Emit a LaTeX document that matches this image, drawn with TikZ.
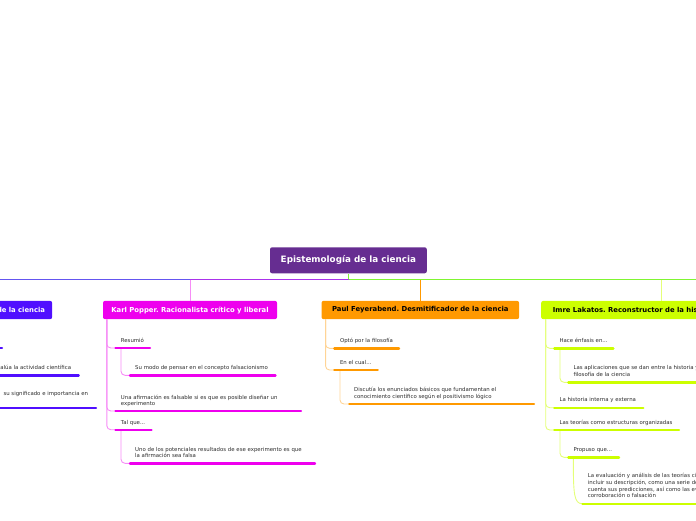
\documentclass[tikz,border=0pt]{standalone}
\usepackage{fontspec}
\setmainfont{DejaVu Sans}
\frenchspacing
\definecolor{rootc}{RGB}{102,45,145}
\definecolor{bluec}{RGB}{80,15,255}
\definecolor{magc}{RGB}{238,0,238}
\definecolor{magl}{RGB}{246,140,246}
\definecolor{orc}{RGB}{255,153,0}
\definecolor{orl}{RGB}{255,212,150}
\definecolor{grc}{RGB}{204,255,0}
\definecolor{grl}{RGB}{228,255,120}
\definecolor{linel}{RGB}{100,85,240}
\definecolor{linep}{RGB}{170,50,235}
\definecolor{lineg}{RGB}{128,245,50}
\definecolor{textc}{RGB}{45,45,45}
\tikzset{
  mainbox/.style={rounded corners=2pt, minimum height=18.3pt, inner ysep=0pt, font=\fontsize{6.85}{8}\selectfont\bfseries},
  bar/.style={line width=2.4pt, line cap=round},
  conn/.style={line width=0.9pt, rounded corners=4pt},
  txt/.style={anchor=base west, inner sep=0pt, font=\fontsize{5.4}{6.6}\selectfont, text=textc, align=left},
  txte/.style={txt, anchor=base east},
  mainline/.style={line width=1.3pt}
}
\begin{document}
\begin{tikzpicture}[x=1pt,y=-1pt]
\useasboundingbox (0,0) rectangle (696,520);
\clip (0,0) rectangle (696,520);
% root
\node[fill=rootc, rounded corners=2pt, minimum width=156.7pt, minimum height=26pt, inner sep=0pt, text=white, font=\fontsize{8.8}{10}\selectfont\bfseries] (root) at (348.4,260.3) {Epistemología de la ciencia};
\coordinate (hub) at (348.6,279.6);
\coordinate (leftend) at (-5,279.6);
\coordinate (rightend) at (701,279.6);
% main boxes
\node[mainbox, fill=bluec, text=white, anchor=east, text width=90pt, align=right, inner xsep=7pt] (kuhn) at (52.3,310) {de la ciencia};
\node[mainbox, fill=magc, text=white, minimum width=174pt, inner xsep=0pt] (popper) at (190,310) {Karl Popper. Racionalista crítico y liberal};
\node[mainbox, fill=orc, text=black, minimum width=197.5pt, inner xsep=0pt] (fey) at (420.3,310) {Paul Feyerabend. Desmitificador de la ciencia};
\node[mainbox, fill=grc, text=black, anchor=west, inner xsep=11.7pt] (lak) at (541,310) {Imre Lakatos. Reconstructor de la historia de la ciencia};
% main lines
\draw[mainline, lineg] (hub) -- (rightend);
\draw[mainline, lineg, line width=1pt] (root.south -| hub) -- (hub);
\draw[mainline, linep] (hub) -- (popper.north |- hub);
\draw[mainline, linel] (popper.north |- hub) -- (leftend);
\draw[line width=1pt, magl] (popper.north |- hub) -- (popper.north);
\draw[line width=1pt, orc] (fey.north |- hub) -- (fey.north);
\draw[line width=1pt, grl] (lak.north -| 661.5,0) -- (661.5,280.3);
% ---------- Kuhn (left, cut) ----------
\coordinate (k1s) at (-20,347.7); \coordinate (k1e) at (2,347.7);
\coordinate (k2s) at (-20,375.3); \coordinate (k2e) at (78.7,375.3);
\coordinate (k3s) at (-20,407.7); \coordinate (k3e) at (96,407.7);
\draw[bar, bluec] (k1s) -- (k1e);
\draw[bar, bluec] (k2s) -- (k2e);
\draw[bar, bluec] (k3s) -- (k3e);
\node[txte] (kt2) at (71.3,369.4) {alúa la actividad científica};
\node[txte] (kt3) at (88.3,395.7) {su significado e importancia en};
% ---------- Popper ----------
\coordinate (p1s) at (115.5,348); \coordinate (p1e) at (150,348);
\coordinate (p1as) at (130,375.3); \coordinate (p1ae) at (275.5,375.3);
\coordinate (p2s) at (115.5,411); \coordinate (p2e) at (301,411);
\coordinate (p3s) at (115.5,429.7); \coordinate (p3e) at (151.5,429.7);
\coordinate (p3as) at (130,463.3); \coordinate (p3ae) at (315,463.3);
\draw[conn, magl] ([xshift=4pt]popper.south west) |- (p1s);
\draw[conn, magl] ([xshift=4pt]popper.south west) |- (p2s);
\draw[conn, magl] ([xshift=4pt]popper.south west) |- (p3s);
\draw[conn, magl] ([xshift=5.5pt]p1s) |- (p1as);
\draw[conn, magl] ([xshift=5.5pt]p3s) |- (p3as);
\draw[bar, magc] (p1s) -- (p1e);
\draw[bar, magc] (p1as) -- (p1ae);
\draw[bar, magc] (p2s) -- (p2e);
\draw[bar, magc] (p3s) -- (p3e);
\draw[bar, magc] (p3as) -- (p3ae);
\node[txt] (pt1) at (120.7,342.6) {Resumió};
\node[txt] (pt1a) at (135,369.8) {Su modo de pensar en el concepto falsacionismo};
\node[txt] (pt2) at (120.7,405.6) {Una afirmación es falsable si es que es posible diseñar un\\experimento};
\node[txt] (pt3) at (120.7,424.4) {Tal que...};
\node[txt] (pt3a) at (135,457.6) {Uno de los potenciales resultados de ese experimento es que\\la afirmación sea falsa};
% ---------- Feyerabend ----------
\coordinate (f1s) at (334.3,348.3); \coordinate (f1e) at (399,348.3);
\coordinate (f2s) at (334.3,370); \coordinate (f2e) at (377.7,370);
\coordinate (f2as) at (349.3,404); \coordinate (f2ae) at (534,404);
\draw[conn, orl] ([xshift=4.2pt]fey.south west) |- (f1s);
\draw[conn, orl] ([xshift=4.2pt]fey.south west) |- (f2s);
\draw[conn, orl] ([xshift=5.7pt]f2s) |- (f2as);
\draw[bar, orc] (f1s) -- (f1e);
\draw[bar, orc] (f2s) -- (f2e);
\draw[bar, orc] (f2as) -- (f2ae);
\node[txt] (ft1) at (339.8,342.7) {Optó por la filosofía};
\node[txt] (ft2) at (339.8,364.3) {En el cual...};
\node[txt] (ft2a) at (354,398.2) {Discutía los enunciados básicos que fundamentan el\\conocimiento científico según el positivismo lógico};
% ---------- Lakatos ----------
\coordinate (l1s) at (554.3,348.3); \coordinate (l1e) at (613.3,348.3);
\coordinate (l1as) at (568.3,382.3); \coordinate (l1ae) at (720,382.3);
\coordinate (l2s) at (554.3,407.7); \coordinate (l2e) at (643.3,407.7);
\coordinate (l3s) at (554.3,430); \coordinate (l3e) at (679,430);
\coordinate (l3as) at (568.3,457.3); \coordinate (l3ae) at (619,457.3);
\coordinate (l3aas) at (582.5,503.7); \coordinate (l3aae) at (720,503.7);
\draw[conn, grl] ([xshift=4.7pt]lak.south west) |- (l1s);
\draw[conn, grl] ([xshift=4.7pt]lak.south west) |- (l2s);
\draw[conn, grl] ([xshift=4.7pt]lak.south west) |- (l3s);
\draw[conn, grl] ([xshift=5.7pt]l1s) |- (l1as);
\draw[conn, grl] ([xshift=5.7pt]l3s) |- (l3as);
\draw[grl, line width=0.9pt] ([xshift=5pt]l3as) .. controls (573.3,495) and (574,503.7) .. (l3aas);
\draw[bar, grc] (l1s) -- (l1e);
\draw[bar, grc] (l1as) -- (l1ae);
\draw[bar, grc] (l2s) -- (l2e);
\draw[bar, grc] (l3s) -- (l3e);
\draw[bar, grc] (l3as) -- (l3ae);
\draw[bar, grc] (l3aas) -- (l3aae);
\node[txt] (lt1) at (559.3,342.7) {Hace énfasis en...};
\node[txt] (lt1a) at (573.3,376) {Las aplicaciones que se dan entre la historia y la\\filosofía de la ciencia};
\node[txt] (lt2) at (559.3,401.7) {La historia interna y externa};
\node[txt] (lt3) at (559.3,424) {Las teorías como estructuras organizadas};
\node[txt] (lt3a) at (573.3,451.3) {Propuso que...};
\node[txt] (lt3aa) at (587.7,497.7) {La evaluación y análisis de las teorías científicas debe\\incluir su descripción, como una serie de teorías, tomando en\\cuenta sus predicciones, así como las evidencias de su\\corroboración o falsación};
\end{tikzpicture}
\end{document}
